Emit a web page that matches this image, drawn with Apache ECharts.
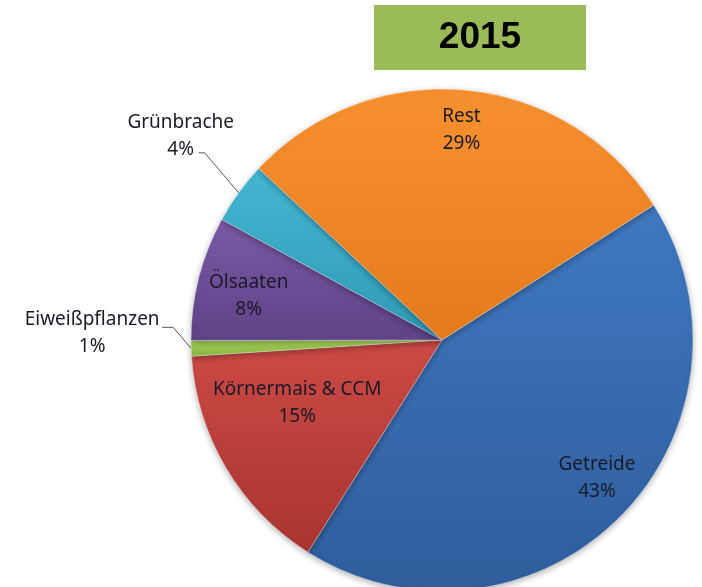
<!DOCTYPE html>
<html>
<head>
<meta charset="utf-8">
<script src="https://cdn.jsdelivr.net/npm/echarts@6/dist/echarts.min.js"></script>
<style>
  html, body { margin: 0; padding: 0; background: #fff; }
  #chart { width: 702px; height: 587px; }
</style>
</head>
<body>
<div id="chart"></div>
<script>
// Flächenanteile 2015
const categories = ['Getreide', 'Körnermais & CCM', 'Eiweißpflanzen', 'Ölsaaten', 'Grünbrache', 'Rest'];
const shares = [43, 15, 1, 8, 4, 29];
const chartTitle = '2015';

const colors = [
    ['#3f78c0', '#2f5d9c'],
    ['#cc4a45', '#a83531'],
    ['#a8d45e', '#86b63f'],
    ['#7a5aa4', '#5f4288'],
    ['#45b6d2', '#2f9ab6'],
    ['#f7902f', '#e47c1f']
];

const cx = 442, cy = 340, R = 251;
const startAngle = 32.5;   // echarts: gegen Uhrzeigersinn ab 3 Uhr

// Beschriftung innen: Anteil des Radius und Winkelkorrektur (Grad)
const inside = {
    0: {ratio: 0.827, shift: -3.2},
    1: {ratio: 0.63, shift: 7},
    3: {ratio: 0.79, shift: -1.5},
    5: {ratio: 0.84, shift: 0}
};
// Beschriftung außen: Versatz zum Randpunkt, Knick der Führungslinie
const outside = {
    2: {dx: -99, dy: -15, bend: [-18, -21], end: [-29, -21]},
    4: {dx: -58, dy: -57, bend: [-34, -40], end: [-40, -40]}
};

const total = shares.reduce((a, b) => a + b, 0);
function midAngle(i, shift) {
    let cum = 0;
    for (let k = 0; k < i; k++) cum += shares[k];
    const a0 = 90 - startAngle;
    return (a0 + 360 * (cum + shares[i] / 2) / total + (shift || 0)) * Math.PI / 180;
}
function pointAt(i, r, shift) {
    const a = midAngle(i, shift);
    return [cx + r * Math.sin(a), cy - r * Math.cos(a)];
}

const chart = echarts.init(document.getElementById('chart'));

const option = {
    backgroundColor: '#ffffff',
    animation: false,
    graphic: [
        {
            type: 'rect',
            shape: {x: 374, y: 5, width: 212, height: 65},
            style: {fill: '#9bbb59'}
        },
        {
            type: 'text',
            x: 480, y: 38,
            style: {
                text: chartTitle,
                fontFamily: 'Liberation Sans, Arial',
                fontWeight: 'bold',
                fontSize: 37,
                fill: '#000',
                align: 'center',
                verticalAlign: 'middle'
            }
        }
    ],
    series: [
        {
            type: 'pie',
            center: [cx, cy],
            radius: [0, R],
            startAngle: startAngle,
            clockwise: true,
            avoidLabelOverlap: false,
            data: categories.map((name, i) => ({
                name: name,
                value: shares[i],
                itemStyle: {
                    color: {
                        type: 'linear', x: 0, y: 0, x2: 0, y2: 1,
                        colorStops: [
                            {offset: 0, color: colors[i][0]},
                            {offset: 1, color: colors[i][1]}
                        ]
                    }
                },
                label: {position: outside[i] ? 'outside' : 'inside'},
                labelLine: {show: !!outside[i]}
            })),
            itemStyle: {
                borderColor: 'rgba(255,255,255,0.35)',
                borderWidth: 1,
                shadowBlur: 6,
                shadowColor: 'rgba(0,0,0,0.3)',
                shadowOffsetY: 2
            },
            label: {
                show: true,
                formatter: p => p.name + '\n' + shares[p.dataIndex] + '%',
                fontFamily: 'Noto Sans, Open Sans, sans-serif',
                fontSize: 19,
                lineHeight: 27,
                color: '#1a1a28',
                align: 'center'
            },
            labelLine: {
                lineStyle: {color: '#555', width: 1}
            },
            labelLayout: function (params) {
                const i = params.dataIndex;
                if (outside[i]) {
                    const o = outside[i];
                    const e = pointAt(i, R);
                    return {
                        x: e[0] + o.dx,
                        y: e[1] + o.dy,
                        align: 'center',
                        verticalAlign: 'middle',
                        labelLinePoints: [
                            e,
                            [e[0] + o.bend[0], e[1] + o.bend[1]],
                            [e[0] + o.end[0], e[1] + o.end[1]]
                        ]
                    };
                }
                const p = pointAt(i, R * inside[i].ratio, inside[i].shift);
                return {x: p[0], y: p[1], align: 'center', verticalAlign: 'middle'};
            }
        }
    ]
};

chart.setOption(option);
</script>
</body>
</html>
